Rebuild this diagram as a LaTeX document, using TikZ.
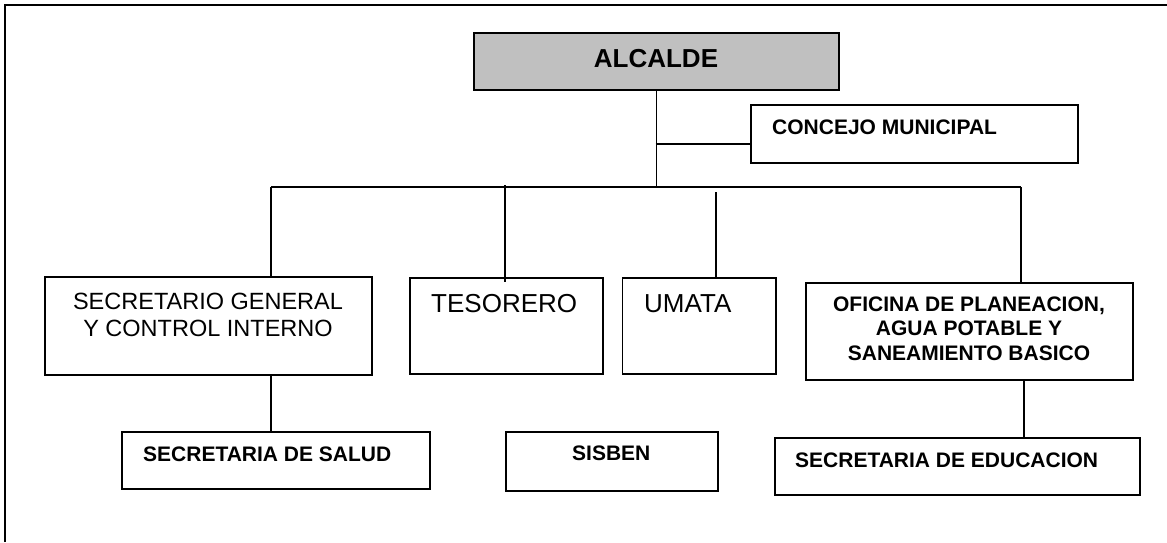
\documentclass[tikz,border=0pt]{standalone}
\usepackage{fontspec}
\setmainfont{Liberation Sans}
\definecolor{boxgray}{HTML}{C0C0C0}
\tikzset{
  box/.style={draw, line width=1.5pt, inner sep=0pt, anchor=north west},
  conn/.style={line width=1.2pt},
  regtxt/.style={inner sep=0pt, font=\fontsize{23.5}{27}\selectfont, align=center},
  bigtxt/.style={inner sep=0pt, font=\fontsize{26}{30}\selectfont, anchor=base west},
  boldtxt/.style={inner sep=0pt, font=\bfseries\fontsize{21}{24.5}\selectfont, anchor=base west},
}
\begin{document}
\begin{tikzpicture}[x=1pt,y=-1pt]
\useasboundingbox (0,0) rectangle (1167,542);
% frame
\draw[line width=1.5pt] (5,542) -- (5,5) -- (1167,5);
% boxes
\node[box, fill=boxgray, minimum width=365pt, minimum height=57pt] (alc) at (473,32) {};
\node[box, minimum width=327pt, minimum height=58pt] (con) at (750,104) {};
\node[box, minimum width=327pt, minimum height=98pt] (sg) at (44,276) {};
\node[box, minimum width=193pt, minimum height=96pt] (tes) at (409,277) {};
\node[box, minimum width=153.5pt, minimum height=96pt] (uma) at (621.5,277) {};
\node[box, minimum width=327pt, minimum height=97pt] (ofi) at (805,282) {};
\node[box, minimum width=308pt, minimum height=57pt] (ss) at (121,431) {};
\node[box, minimum width=212pt, minimum height=59pt] (sis) at (505,431) {};
\node[box, minimum width=365pt, minimum height=57pt] (se) at (774,437) {};
% texts
\node[inner sep=0pt, font=\bfseries\fontsize{26}{30}\selectfont, anchor=base] (talc) at (656,67) {ALCALDE};
\node[boldtxt] (tcon) at (772,134) {CONCEJO MUNICIPAL};
\node[regtxt, anchor=base] (tsg) at (208,336) {SECRETARIO GENERAL\\Y CONTROL INTERNO};
\node[bigtxt] (ttes) at (431,312) {TESORERO};
\node[bigtxt] (tuma) at (644,312) {UMATA};
\node[inner sep=0pt, font=\bfseries\fontsize{21}{24.5}\selectfont, align=center, anchor=base] (tofi) at (969,360) {OFICINA DE PLANEACION,\\AGUA POTABLE Y\\SANEAMIENTO BASICO};
\node[boldtxt] (tss) at (143,461) {SECRETARIA DE SALUD};
\node[boldtxt] (tsis) at (572,460) {SISBEN};
\node[boldtxt] (tse) at (795,467) {SECRETARIA DE EDUCACION};
% connector points
\coordinate (busL) at (271,187);
\coordinate (busR) at (1021,187);
\coordinate (cj) at (655.5,144);
\coordinate (tesTop) at (505,185);
\coordinate (umaTop) at (716,192);
\coordinate (sgDown) at (271,374);
\coordinate (ofiDown) at (1024,379);
% connectors
\draw[conn] (alc.south) -- (alc.south |- busL);
\draw[conn] (cj) -- (cj -| con.west);
\draw[conn] (busL) -- (busR);
\draw[conn] (busL) -- (busL |- sg.north);
\draw[conn] (tesTop) -- ++(0,97);
\draw[conn] (umaTop) -- (umaTop |- uma.north);
\draw[conn] (busR) -- (busR |- ofi.north);
\draw[conn] (sgDown) -- ([yshift=-2pt]sgDown |- ss.north);
\draw[conn] (ofiDown) -- ([yshift=-1pt]ofiDown |- se.north);
\end{tikzpicture}
\end{document}
